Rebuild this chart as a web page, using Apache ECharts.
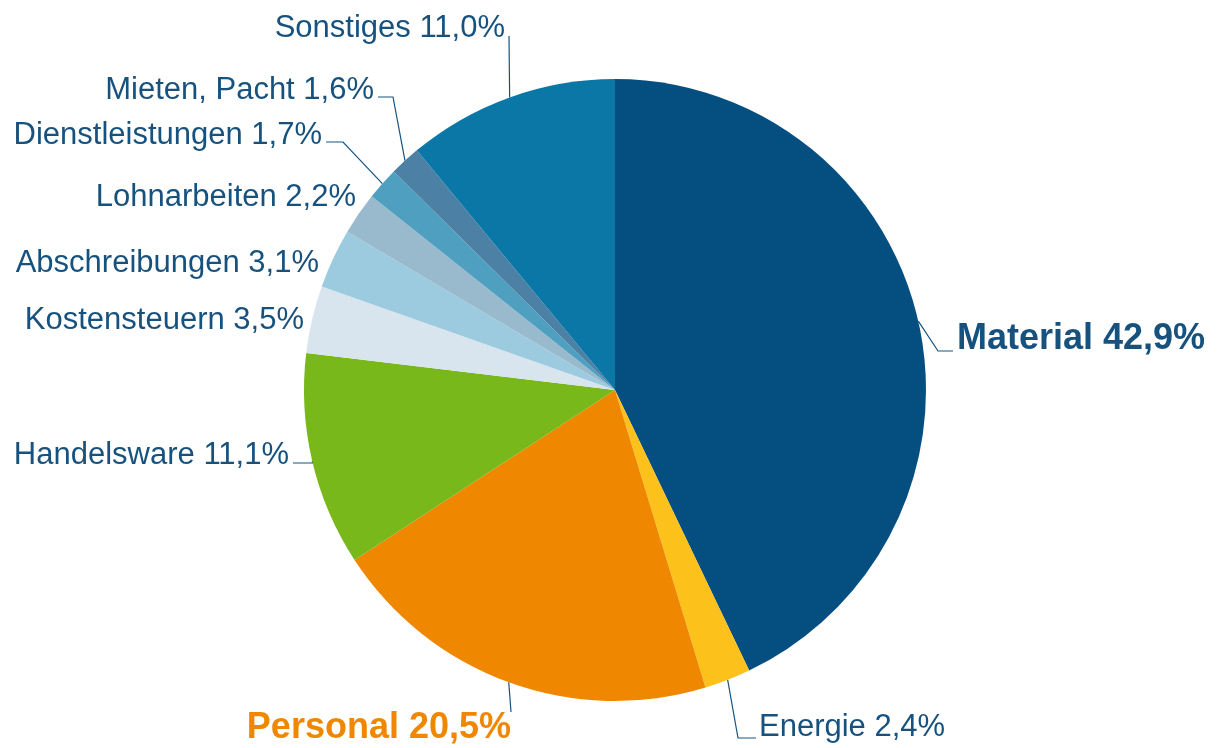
<!DOCTYPE html>
<html>
<head>
<meta charset="utf-8">
<script src="https://cdn.jsdelivr.net/npm/echarts@6/dist/echarts.min.js"></script>
<style>
  html, body { margin: 0; padding: 0; background: #fff; }
  #chart { width: 1217px; height: 748px; }
</style>
</head>
<body>
<div id="chart"></div>
<script>
var categories = ['Material', 'Energie', 'Personal', 'Handelsware', 'Kostensteuern',
    'Abschreibungen', 'Lohnarbeiten', 'Dienstleistungen', 'Mieten, Pacht', 'Sonstiges'];
var shares = [42.9, 2.4, 20.5, 11.1, 3.5, 3.1, 2.2, 1.7, 1.6, 11.0];
var colors = ['#054f80', '#fcc21b', '#f08700', '#78b81a', '#d9e5ee',
    '#9ccbdf', '#99b9cd', '#4fa0c0', '#4d80a5', '#0a77a7'];

// label anchor + leader line bends, per slice (layout only)
var labelSpots = [
    { x: 957, y: 339, align: 'left', line: [[938, 351], [953, 351]] },
    { x: 759, y: 727, align: 'left', line: [[738, 738], [756, 738]] },
    { x: 511, y: 728, align: 'right', line: [[511, 712], [511, 712]] },
    { x: 289, y: 455, align: 'right', line: [[313, 463], [293, 463]] },
    { x: 304, y: 320, align: 'right' },
    { x: 319, y: 263, align: 'right' },
    { x: 356, y: 197, align: 'right' },
    { x: 322, y: 135, align: 'right', line: [[343, 142], [326, 142]] },
    { x: 374, y: 90, align: 'right', line: [[393, 97], [378, 97]] },
    { x: 505, y: 28, align: 'right', line: [[509, 36], [509, 36]] }
];

function fmt(v) {
    return v.toFixed(1).replace('.', ',') + '%';
}

var myChart = echarts.init(document.getElementById('chart'));

var data = categories.map(function (name, i) {
    var item = {
        name: name,
        value: shares[i],
        itemStyle: { color: colors[i] },
        labelLine: { show: !!labelSpots[i].line }
    };
    if (name === 'Material') {
        item.label = { fontSize: 36, fontWeight: 'bold' };
    }
    if (name === 'Personal') {
        item.label = { fontSize: 36, fontWeight: 'bold', color: '#f08700' };
    }
    return item;
});

var option = {
    animation: false,
    series: [
        {
            type: 'pie',
            center: [615, 390],
            radius: 311,
            startAngle: 90,
            clockwise: true,
            data: data,
            itemStyle: { borderWidth: 0 },
            label: {
                show: true,
                position: 'outside',
                overflow: 'none',
                fontFamily: 'Liberation Sans, Arial, sans-serif',
                fontSize: 31,
                color: '#17527f',
                formatter: function (p) {
                    return p.name + ' ' + fmt(p.value);
                }
            },
            labelLine: {
                show: true,
                lineStyle: { color: '#17527f', width: 1.2 }
            },
            labelLayout: function (params) {
                var s = labelSpots[params.dataIndex];
                var out = {
                    x: s.x,
                    y: s.y,
                    align: s.align,
                    verticalAlign: 'middle'
                };
                if (s.line && params.labelLinePoints) {
                    var edge = params.labelLinePoints[0];
                    out.labelLinePoints = [edge, s.line[0], s.line[1]];
                }
                return out;
            }
        }
    ]
};

myChart.setOption(option);
</script>
</body>
</html>
